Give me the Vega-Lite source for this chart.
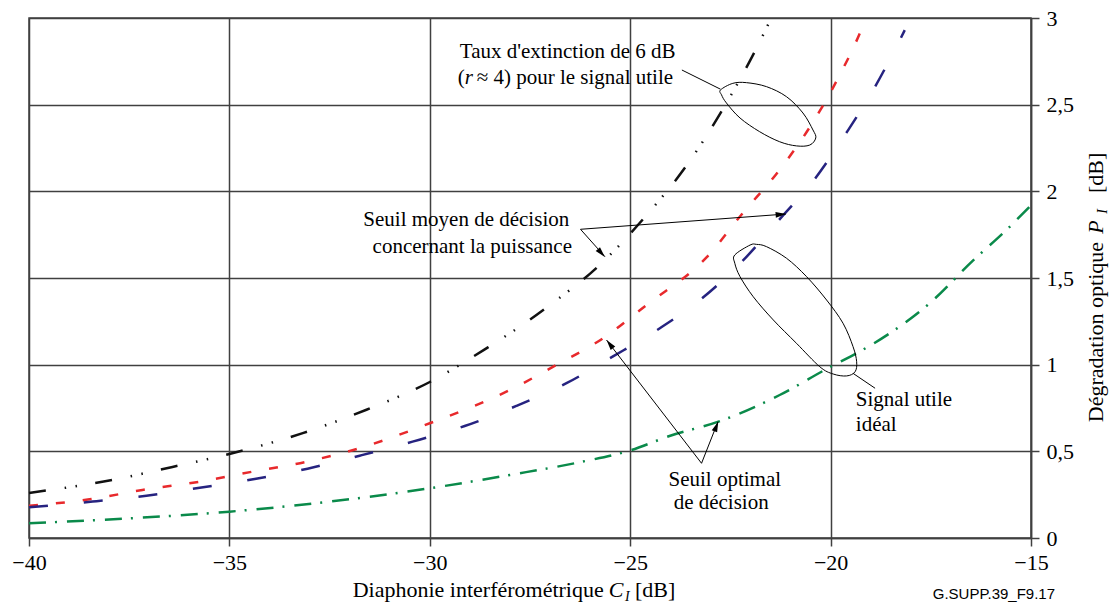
{
  "$schema": "https://vega.github.io/schema/vega-lite/v6.json",
  "width": 1002,
  "height": 520,
  "autosize": {"type": "none"},
  "padding": {"left": 29, "top": 18, "right": 83, "bottom": 72},
  "background": "white",
  "config": {"view": {"stroke": "#404040", "strokeWidth": 1.5}},
  "datasets": {
    "curves": [
      {"series": "moyen_r4", "x": -40, "y": 0.26},
      {"series": "moyen_r4", "x": -37.92, "y": 0.335},
      {"series": "moyen_r4", "x": -36.42, "y": 0.41},
      {"series": "moyen_r4", "x": -35, "y": 0.485},
      {"series": "moyen_r4", "x": -33.17, "y": 0.605},
      {"series": "moyen_r4", "x": -31.58, "y": 0.74},
      {"series": "moyen_r4", "x": -30, "y": 0.9},
      {"series": "moyen_r4", "x": -28.55, "y": 1.1},
      {"series": "moyen_r4", "x": -27.75, "y": 1.22},
      {"series": "moyen_r4", "x": -27.0, "y": 1.345},
      {"series": "moyen_r4", "x": -25.83, "y": 1.56},
      {"series": "moyen_r4", "x": -24.64, "y": 1.85},
      {"series": "moyen_r4", "x": -23.59, "y": 2.15},
      {"series": "moyen_r4", "x": -22.7, "y": 2.47},
      {"series": "moyen_r4", "x": -21.84, "y": 2.83},
      {"series": "moyen_r4", "x": -21.5, "y": 2.99},
      {"series": "optimal_r4", "x": -40, "y": 0.186},
      {"series": "optimal_r4", "x": -38.49, "y": 0.223},
      {"series": "optimal_r4", "x": -37.17, "y": 0.277},
      {"series": "optimal_r4", "x": -35.74, "y": 0.325},
      {"series": "optimal_r4", "x": -34.42, "y": 0.383},
      {"series": "optimal_r4", "x": -33.08, "y": 0.44},
      {"series": "optimal_r4", "x": -31.76, "y": 0.518},
      {"series": "optimal_r4", "x": -30, "y": 0.662},
      {"series": "optimal_r4", "x": -28.0, "y": 0.854},
      {"series": "optimal_r4", "x": -26.83, "y": 1.0},
      {"series": "optimal_r4", "x": -25.68, "y": 1.152},
      {"series": "optimal_r4", "x": -24.59, "y": 1.345},
      {"series": "optimal_r4", "x": -23.09, "y": 1.62},
      {"series": "optimal_r4", "x": -22.19, "y": 1.875},
      {"series": "optimal_r4", "x": -21.32, "y": 2.11},
      {"series": "optimal_r4", "x": -20.52, "y": 2.37},
      {"series": "optimal_r4", "x": -19.82, "y": 2.65},
      {"series": "optimal_r4", "x": -19.22, "y": 2.94},
      {"series": "optimal_r4", "x": -19.15, "y": 2.98},
      {"series": "moyen_ideal", "x": -40, "y": 0.177},
      {"series": "moyen_ideal", "x": -38.41, "y": 0.21},
      {"series": "moyen_ideal", "x": -37.07, "y": 0.244},
      {"series": "moyen_ideal", "x": -35.74, "y": 0.29},
      {"series": "moyen_ideal", "x": -34.37, "y": 0.34},
      {"series": "moyen_ideal", "x": -33.05, "y": 0.4},
      {"series": "moyen_ideal", "x": -31.75, "y": 0.475},
      {"series": "moyen_ideal", "x": -30.43, "y": 0.556},
      {"series": "moyen_ideal", "x": -29.13, "y": 0.646},
      {"series": "moyen_ideal", "x": -27.84, "y": 0.762},
      {"series": "moyen_ideal", "x": -26.59, "y": 0.893},
      {"series": "moyen_ideal", "x": -25.44, "y": 1.046},
      {"series": "moyen_ideal", "x": -24.26, "y": 1.21},
      {"series": "moyen_ideal", "x": -23.26, "y": 1.373},
      {"series": "moyen_ideal", "x": -22.19, "y": 1.6},
      {"series": "moyen_ideal", "x": -21.23, "y": 1.85},
      {"series": "moyen_ideal", "x": -20.4, "y": 2.07},
      {"series": "moyen_ideal", "x": -19.6, "y": 2.34},
      {"series": "moyen_ideal", "x": -18.9, "y": 2.6},
      {"series": "moyen_ideal", "x": -18.28, "y": 2.87},
      {"series": "moyen_ideal", "x": -18.15, "y": 2.93},
      {"series": "optimal_ideal", "x": -40, "y": 0.085},
      {"series": "optimal_ideal", "x": -37.5, "y": 0.113},
      {"series": "optimal_ideal", "x": -35, "y": 0.152},
      {"series": "optimal_ideal", "x": -32.5, "y": 0.21},
      {"series": "optimal_ideal", "x": -30, "y": 0.287},
      {"series": "optimal_ideal", "x": -28, "y": 0.364},
      {"series": "optimal_ideal", "x": -26.2, "y": 0.44},
      {"series": "optimal_ideal", "x": -25, "y": 0.505},
      {"series": "optimal_ideal", "x": -24, "y": 0.59},
      {"series": "optimal_ideal", "x": -22.8, "y": 0.671},
      {"series": "optimal_ideal", "x": -21.27, "y": 0.825},
      {"series": "optimal_ideal", "x": -20, "y": 0.988},
      {"series": "optimal_ideal", "x": -19.35, "y": 1.066},
      {"series": "optimal_ideal", "x": -18.53, "y": 1.18},
      {"series": "optimal_ideal", "x": -17.53, "y": 1.354},
      {"series": "optimal_ideal", "x": -16.45, "y": 1.6},
      {"series": "optimal_ideal", "x": -15.6, "y": 1.78},
      {"series": "optimal_ideal", "x": -15, "y": 1.92}
    ],
    "ellipses": [
      {"id": "e1", "i": 0, "x": -22.745, "y": 2.585},
      {"id": "e1", "i": 1, "x": -22.44, "y": 2.623},
      {"id": "e1", "i": 2, "x": -22.1, "y": 2.627},
      {"id": "e1", "i": 3, "x": -21.6, "y": 2.604},
      {"id": "e1", "i": 4, "x": -21.1, "y": 2.546},
      {"id": "e1", "i": 5, "x": -20.69, "y": 2.452},
      {"id": "e1", "i": 6, "x": -20.44, "y": 2.354},
      {"id": "e1", "i": 7, "x": -20.37, "y": 2.308},
      {"id": "e1", "i": 8, "x": -20.52, "y": 2.267},
      {"id": "e1", "i": 9, "x": -20.85, "y": 2.262},
      {"id": "e1", "i": 10, "x": -21.27, "y": 2.286},
      {"id": "e1", "i": 11, "x": -21.77, "y": 2.344},
      {"id": "e1", "i": 12, "x": -22.26, "y": 2.423},
      {"id": "e1", "i": 13, "x": -22.6, "y": 2.51},
      {"id": "e1", "i": 14, "x": -22.72, "y": 2.556},
      {"id": "e2", "i": 0, "x": -22.01, "y": 1.69},
      {"id": "e2", "i": 1, "x": -22.39, "y": 1.633},
      {"id": "e2", "i": 2, "x": -22.39, "y": 1.585},
      {"id": "e2", "i": 3, "x": -22.26, "y": 1.508},
      {"id": "e2", "i": 4, "x": -21.93, "y": 1.392},
      {"id": "e2", "i": 5, "x": -21.43, "y": 1.258},
      {"id": "e2", "i": 6, "x": -20.85, "y": 1.123},
      {"id": "e2", "i": 7, "x": -20.27, "y": 0.988},
      {"id": "e2", "i": 8, "x": -19.935, "y": 0.946},
      {"id": "e2", "i": 9, "x": -19.6, "y": 0.935},
      {"id": "e2", "i": 10, "x": -19.39, "y": 0.959},
      {"id": "e2", "i": 11, "x": -19.35, "y": 1.017},
      {"id": "e2", "i": 12, "x": -19.44, "y": 1.104},
      {"id": "e2", "i": 13, "x": -19.69, "y": 1.239},
      {"id": "e2", "i": 14, "x": -20.1, "y": 1.373},
      {"id": "e2", "i": 15, "x": -20.6, "y": 1.508},
      {"id": "e2", "i": 16, "x": -21.1, "y": 1.614},
      {"id": "e2", "i": 17, "x": -21.6, "y": 1.681},
      {"id": "e2", "i": 18, "x": -21.85, "y": 1.694}
    ],
    "leaders": [
      {"id": "taux", "i": 0, "x": -23.71, "y": 2.7},
      {"id": "taux", "i": 1, "x": -22.745, "y": 2.589},
      {"id": "signal", "i": 0, "x": -19.44, "y": 0.95},
      {"id": "signal", "i": 1, "x": -18.89, "y": 0.864},
      {"id": "a1", "i": 0, "x": -26.24, "y": 1.781},
      {"id": "a1", "i": 1, "x": -21.12, "y": 1.869},
      {"id": "a2", "i": 0, "x": -26.24, "y": 1.781},
      {"id": "a2", "i": 1, "x": -25.63, "y": 1.623},
      {"id": "a3", "i": 0, "x": -23.22, "y": 0.431},
      {"id": "a3", "i": 1, "x": -25.59, "y": 1.142},
      {"id": "a4", "i": 0, "x": -23.22, "y": 0.431},
      {"id": "a4", "i": 1, "x": -22.81, "y": 0.671}
    ],
    "heads": [
      {"id": "a1", "x": -21.24, "y": 1.867, "dir": 85.7},
      {"id": "a2", "x": -25.72, "y": 1.644, "dir": 138.4},
      {"id": "a3", "x": -25.51, "y": 1.119, "dir": 322.4},
      {"id": "a4", "x": -22.85, "y": 0.644, "dir": 21.8}
    ]
  },
  "layer": [
    {
      "data": {"name": "curves"},
      "mark": {"type": "line", "interpolate": "monotone", "strokeWidth": 2.5, "strokeCap": "butt"},
      "encoding": {
        "x": {
          "field": "x", "type": "quantitative",
          "scale": {"domain": [-40, -15], "nice": false, "zero": false},
          "axis": {
            "values": [-40, -35, -30, -25, -20, -15], "title": null,
            "grid": true, "gridColor": "#404040", "gridWidth": 1.5, "gridOpacity": 1,
            "domainColor": "#404040", "domainWidth": 1.5,
            "tickColor": "#404040", "tickWidth": 1.5, "tickSize": 8,
            "labelFont": "Liberation Serif", "labelFontSize": 22, "labelColor": "#000000",
            "labelPadding": 6, "labelFlush": false, "labelOverlap": false, "labelBound": false
          }
        },
        "y": {
          "field": "y", "type": "quantitative",
          "scale": {"domain": [0, 3], "nice": false, "zero": false},
          "axis": {
            "orient": "right", "values": [0, 0.5, 1, 1.5, 2, 2.5, 3], "title": null,
            "labelExpr": "replace(toString(datum.value), '.', ',')",
            "grid": true, "gridColor": "#404040", "gridWidth": 1.5, "gridOpacity": 1,
            "domainColor": "#404040", "domainWidth": 1.5,
            "tickColor": "#404040", "tickWidth": 1.5, "tickSize": 8,
            "labelFont": "Liberation Serif", "labelFontSize": 22, "labelColor": "#000000",
            "labelPadding": 7, "labelFlush": false, "labelOverlap": false, "labelBound": false
          }
        },
        "color": {
          "field": "series", "type": "nominal",
          "scale": {"domain": ["moyen_r4", "optimal_r4", "moyen_ideal", "optimal_ideal"], "range": ["#111111", "#e8292c", "#262380", "#0a8a4a"]},
          "legend": null
        },
        "strokeDash": {
          "field": "series", "type": "nominal",
          "scale": {"domain": ["moyen_r4", "optimal_r4", "moyen_ideal", "optimal_ideal"], "range": [[17, 19, 1.5, 9.5, 1.5, 18.5], [9, 18], [19, 36], [17, 9, 2, 10]]},
          "legend": null
        }
      }
    },
    {
      "data": {"name": "ellipses"},
      "mark": {"type": "line", "interpolate": "cardinal-closed", "strokeWidth": 1, "color": "#000000"},
      "encoding": {
        "x": {"field": "x", "type": "quantitative"},
        "y": {"field": "y", "type": "quantitative"},
        "detail": {"field": "id", "type": "nominal"},
        "order": {"field": "i", "type": "quantitative"}
      }
    },
    {
      "data": {"name": "leaders"},
      "mark": {"type": "line", "strokeWidth": 1, "color": "#000000"},
      "encoding": {
        "x": {"field": "x", "type": "quantitative"},
        "y": {"field": "y", "type": "quantitative"},
        "detail": {"field": "id", "type": "nominal"},
        "order": {"field": "i", "type": "quantitative"}
      }
    },
    {
      "data": {"name": "heads"},
      "mark": {"type": "point", "shape": "M0,-1L0.55,1L-0.55,1Z", "filled": true, "size": 110, "color": "#000000", "opacity": 1},
      "encoding": {
        "x": {"field": "x", "type": "quantitative"},
        "y": {"field": "y", "type": "quantitative"},
        "angle": {"field": "dir", "type": "quantitative", "scale": null}
      }
    },
    {
      "data": {"values": [
        {"x": -26.56, "y": 2.804, "t": "Taux d'extinction de 6 dB"},
        {"x": -29.09, "y": 1.835, "t": "Seuil moyen  de décision"},
        {"x": -28.94, "y": 1.679, "t": "concernant la puissance"},
        {"x": -22.64, "y": 0.335, "t": "Seuil optimal"},
        {"x": -22.73, "y": 0.202, "t": "de décision"}
      ]},
      "mark": {"type": "text", "align": "center", "baseline": "middle", "font": "Liberation Serif", "fontSize": 21, "color": "#000000"},
      "encoding": {
        "x": {"field": "x", "type": "quantitative"},
        "y": {"field": "y", "type": "quantitative"},
        "text": {"field": "t"}
      }
    },
    {
      "data": {"values": [
        {"x": -29.3, "y": 2.654, "t": "("},
        {"x": -28.83, "y": 2.654, "t": "≈ 4) pour le signal utile"},
        {"x": -19.37, "y": 0.796, "t": "Signal utile"},
        {"x": -19.37, "y": 0.652, "t": "idéal"}
      ]},
      "mark": {"type": "text", "align": "left", "baseline": "middle", "font": "Liberation Serif", "fontSize": 21, "color": "#000000"},
      "encoding": {
        "x": {"field": "x", "type": "quantitative"},
        "y": {"field": "y", "type": "quantitative"},
        "text": {"field": "t"}
      }
    },
    {
      "data": {"values": [{"x": -29.13, "y": 2.654, "t": "r"}]},
      "mark": {"type": "text", "align": "left", "baseline": "middle", "font": "Liberation Serif", "fontStyle": "italic", "fontSize": 21, "color": "#000000"},
      "encoding": {
        "x": {"field": "x", "type": "quantitative"},
        "y": {"field": "y", "type": "quantitative"},
        "text": {"field": "t"}
      }
    },
    {
      "data": {"values": [{"x": -25.66, "y": -0.34, "t": "Diaphonie interférométrique"}]},
      "mark": {"type": "text", "align": "right", "baseline": "alphabetic", "font": "Liberation Serif", "fontSize": 22, "color": "#000000"},
      "encoding": {"x": {"field": "x", "type": "quantitative"}, "y": {"field": "y", "type": "quantitative"}, "text": {"field": "t"}}
    },
    {
      "data": {"values": [{"x": -25.535, "y": -0.34, "t": "C"}]},
      "mark": {"type": "text", "align": "left", "baseline": "alphabetic", "font": "Liberation Serif", "fontStyle": "italic", "fontSize": 22, "color": "#000000"},
      "encoding": {"x": {"field": "x", "type": "quantitative"}, "y": {"field": "y", "type": "quantitative"}, "text": {"field": "t"}}
    },
    {
      "data": {"values": [{"x": -25.13, "y": -0.363, "t": "I"}]},
      "mark": {"type": "text", "align": "left", "baseline": "alphabetic", "font": "Liberation Serif", "fontStyle": "italic", "fontSize": 14, "color": "#000000"},
      "encoding": {"x": {"field": "x", "type": "quantitative"}, "y": {"field": "y", "type": "quantitative"}, "text": {"field": "t"}}
    },
    {
      "data": {"values": [{"x": -24.88, "y": -0.34, "t": "[dB]"}]},
      "mark": {"type": "text", "align": "left", "baseline": "alphabetic", "font": "Liberation Serif", "fontSize": 22, "color": "#000000"},
      "encoding": {"x": {"field": "x", "type": "quantitative"}, "y": {"field": "y", "type": "quantitative"}, "text": {"field": "t"}}
    },
    {
      "data": {"values": [{"x": -13.2, "y": 1.708, "t": "Dégradation optique"}]},
      "mark": {"type": "text", "angle": 270, "align": "right", "baseline": "alphabetic", "font": "Liberation Serif", "fontSize": 22, "color": "#000000"},
      "encoding": {"x": {"field": "x", "type": "quantitative"}, "y": {"field": "y", "type": "quantitative"}, "text": {"field": "t"}}
    },
    {
      "data": {"values": [{"x": -13.2, "y": 1.755, "t": "P"}]},
      "mark": {"type": "text", "angle": 270, "align": "left", "baseline": "alphabetic", "font": "Liberation Serif", "fontStyle": "italic", "fontSize": 22, "color": "#000000"},
      "encoding": {"x": {"field": "x", "type": "quantitative"}, "y": {"field": "y", "type": "quantitative"}, "text": {"field": "t"}}
    },
    {
      "data": {"values": [{"x": -13.1, "y": 1.87, "t": "I"}]},
      "mark": {"type": "text", "angle": 270, "align": "left", "baseline": "alphabetic", "font": "Liberation Serif", "fontStyle": "italic", "fontSize": 14, "color": "#000000"},
      "encoding": {"x": {"field": "x", "type": "quantitative"}, "y": {"field": "y", "type": "quantitative"}, "text": {"field": "t"}}
    },
    {
      "data": {"values": [{"x": -13.2, "y": 1.99, "t": "[dB]"}]},
      "mark": {"type": "text", "angle": 270, "align": "left", "baseline": "alphabetic", "font": "Liberation Serif", "fontSize": 22, "color": "#000000"},
      "encoding": {"x": {"field": "x", "type": "quantitative"}, "y": {"field": "y", "type": "quantitative"}, "text": {"field": "t"}}
    },
    {
      "data": {"values": [{"x": -14.4, "y": -0.352, "t": "G.SUPP.39_F9.17"}]},
      "mark": {"type": "text", "align": "right", "baseline": "alphabetic", "font": "Liberation Sans", "fontSize": 15, "color": "#000000"},
      "encoding": {"x": {"field": "x", "type": "quantitative"}, "y": {"field": "y", "type": "quantitative"}, "text": {"field": "t"}}
    }
  ]
}
